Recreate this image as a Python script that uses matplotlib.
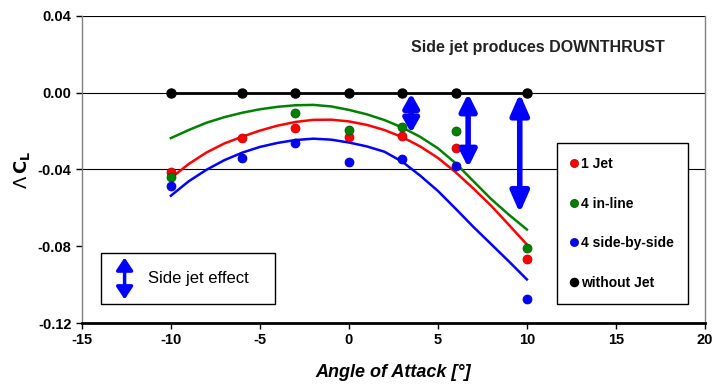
import matplotlib.pyplot as plt
from matplotlib.patches import Rectangle

plt.rcParams['font.family'] = ['Liberation Sans', 'DejaVu Sans']

# Measured points
aoa = [-10, -6, -3, 0, 3, 6, 10]
aoa_inline = [-10, -3, 0, 3, 6, 10]
one_jet = [-0.0416, -0.0235, -0.0182, -0.0232, -0.0227, -0.0289, -0.0869]
in_line = [-0.0440, -0.0107, -0.0194, -0.0180, -0.0199, -0.0808]
side_by_side = [-0.0485, -0.0341, -0.0263, -0.0360, -0.0346, -0.0384, -0.1077]
without_jet = [0, 0, 0, 0, 0, 0, 0]

# Trend curves
aoa_fit = list(range(-10, 11))
one_jet_fit = [-0.0445, -0.0372, -0.0312, -0.0265, -0.0230, -0.0198, -0.0172, -0.0153, -0.0142, -0.0141,
               -0.0150, -0.0168, -0.0195, -0.0232, -0.0280, -0.0340, -0.0415, -0.0500, -0.0590, -0.0690, -0.0791]
in_line_fit = [-0.0237, -0.0195, -0.0157, -0.0128, -0.0105, -0.0087, -0.0074, -0.0066, -0.0064, -0.0072,
               -0.0090, -0.0113, -0.0143, -0.0182, -0.0230, -0.0290, -0.0368, -0.0462, -0.0555, -0.0637, -0.0713]
side_fit = [-0.0537, -0.0462, -0.0402, -0.0352, -0.0313, -0.0283, -0.0262, -0.0247, -0.0240, -0.0245,
            -0.0260, -0.0280, -0.0308, -0.0360, -0.0432, -0.0512, -0.0605, -0.0700, -0.0790, -0.0880, -0.0973]

# Side jet effect arrows (x, bottom)
arrow_x = [3.5, 6.7, 9.6]
arrow_bottom = [-0.021, -0.039, -0.0627]
arrow_head_w = [0.45, 0.5, 0.55]
arrow_head_l = [0.8, 1.0, 1.25]

grid_y = [0.04, 0.0, -0.04]
x_ticks = [-15, -10, -5, 0, 5, 10, 15, 20]
y_ticks = [0.04, 0.00, -0.04, -0.08, -0.12]

fig = plt.figure(figsize=(7.12, 3.85), dpi=100)
ax = fig.add_axes([0.115, 0.161, 0.875, 0.798])

for g in grid_y:
    ax.axhline(g, color='black', lw=0.8, zorder=1)

ax.plot(aoa_fit, in_line_fit, color='#008000', lw=1.8, zorder=2)
ax.plot(aoa_fit, one_jet_fit, color='#ff0000', lw=1.8, zorder=2)
ax.plot(aoa_fit, side_fit, color='#0000ff', lw=1.8, zorder=2)

ms = 6.5
ax.plot(aoa, one_jet, 'o', color='#ff0000', ms=ms, mec='#b00000', mew=0.5, label='1 Jet', zorder=3)
ax.plot(aoa_inline, in_line, 'o', color='#008000', ms=ms, mec='#005000', mew=0.5, label='4 in-line', zorder=3)
ax.plot(aoa, side_by_side, 'o', color='#0000ff', ms=ms, mec='#0000a0', mew=0.5, label='4 side-by-side', zorder=3)
ax.plot(aoa, without_jet, '-', color='black', lw=2, zorder=4)
ax.plot(aoa, without_jet, 'o', color='black', ms=ms, label='without Jet', zorder=4)

for xa, yb, hw, hl in zip(arrow_x, arrow_bottom, arrow_head_w, arrow_head_l):
    ax.annotate('', xy=(xa, yb), xytext=(xa, -0.0005),
                arrowprops=dict(arrowstyle='<|-|>,head_width=%.2f,head_length=%.2f' % (hw, hl),
                                color='#0000ff', lw=4, shrinkA=0, shrinkB=0),
                zorder=5)

ax.text(10.6, 0.0237, 'Side jet produces DOWNTHRUST', ha='center', va='center',
        fontsize=11.5, fontweight='bold', color='#222222')

# Side jet effect box
ax.add_patch(Rectangle((-13.9, -0.1103), 9.74, 0.027, fill=False, edgecolor='black', lw=1, zorder=5))
ax.annotate('', xy=(-12.6, -0.1077), xytext=(-12.6, -0.0859),
            arrowprops=dict(arrowstyle='<|-|>,head_width=0.5,head_length=0.75',
                            color='#0000ff', lw=2.5, shrinkA=0, shrinkB=0),
            zorder=6)
ax.text(-11.3, -0.0968, 'Side jet effect', ha='left', va='center', fontsize=12)

leg = ax.legend(loc='upper left', bbox_to_anchor=(0.762, 0.586), frameon=True, fancybox=False,
                edgecolor='black', framealpha=1, borderpad=1.0, labelspacing=1.85,
                handlelength=0.5, handletextpad=0.25, markerscale=0.9,
                prop={'weight': 'bold', 'size': 10}, borderaxespad=0)
leg.get_frame().set_linewidth(1.0)

ax.set_xlim(-15, 20)
ax.set_ylim(-0.12, 0.04)
ax.set_xticks(x_ticks)
ax.set_yticks(y_ticks)
ax.set_xticklabels([str(v) for v in x_ticks], fontweight='bold', fontsize=10.5)
ax.set_yticklabels(['%.2f' % v if v != 0 else '0.00' for v in y_ticks], fontweight='bold', fontsize=10.5)
ax.tick_params(axis='both', direction='out', length=4, width=1, color='black')

ax.spines['top'].set_visible(False)
ax.spines['left'].set_color('#808080')
ax.spines['left'].set_linewidth(1)
ax.spines['right'].set_color('#808080')
ax.spines['right'].set_linewidth(1)
ax.spines['bottom'].set_color('black')
ax.spines['bottom'].set_linewidth(2)

ax.set_xlabel('Angle of Attack [°]', fontsize=13, fontweight='bold', style='italic', labelpad=12)
ax.set_ylabel(r'$\Lambda\,\mathbf{C_L}$', fontsize=13, labelpad=4)

fig.savefig('out.png', dpi=100)
